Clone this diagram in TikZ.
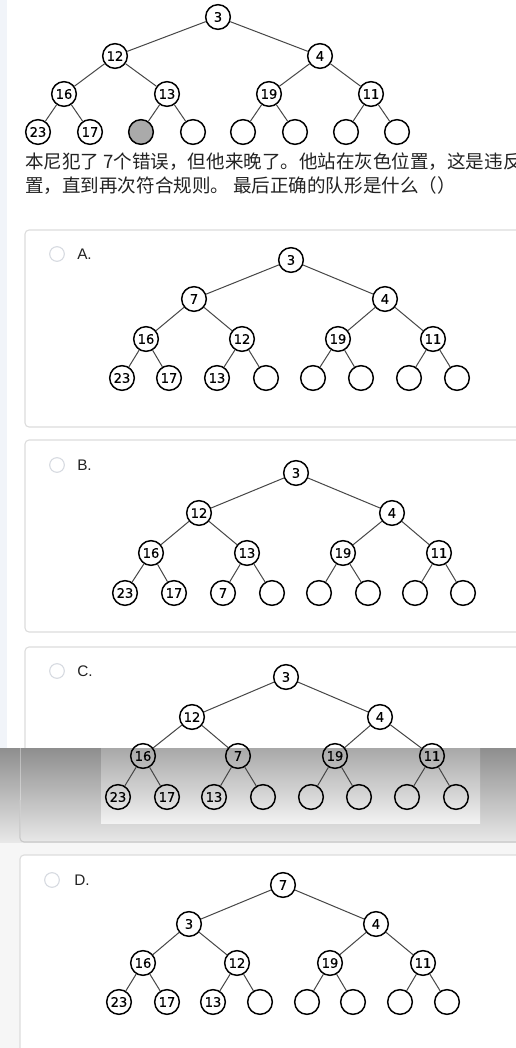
\documentclass[tikz,border=0pt]{standalone}
\usepackage{fontspec}
\setmainfont{Liberation Sans}
\newfontfamily\cjkfont{Noto Sans CJK SC}
\newfontfamily\numfont[FakeBold=0.4]{DejaVu Sans}
\definecolor{cardline}{RGB}{220,220,220}
\definecolor{radioline}{RGB}{214,218,224}
\definecolor{txtdark}{RGB}{34,34,34}
\definecolor{edgegray}{RGB}{70,70,70}
\definecolor{sidestrip}{RGB}{241,244,249}
\definecolor{pagegray}{RGB}{246,246,246}
\tikzset{
  vtx/.style={circle,draw=black,line width=1.1pt,minimum size=18.5pt,inner sep=0pt,font=\numfont\fontsize{9.8}{10}\selectfont},
  grayvtx/.style={vtx,fill={rgb,255:red,170;green,170;blue,170}},
  edge/.style={draw=edgegray,line width=0.75pt},
  card/.style={draw=cardline,line width=0.8pt,rounded corners=3pt,fill=white},
  radio/.style={circle,draw=radioline,line width=0.8pt,minimum size=11pt,inner sep=0pt},
  optlabel/.style={anchor=west,inner sep=0pt,text=txtdark,font=\fontsize{11.5}{12}\selectfont},
  cjktext/.style={anchor=west,inner sep=0pt,text=txtdark,font=\cjkfont\fontsize{13.9}{14}\selectfont}
}
\begin{document}
\begin{tikzpicture}[x=0.75pt,y=0.75pt,yscale=-1,xscale=1]
\useasboundingbox (0,0) rectangle (516,1048);
\clip (0,0) rectangle (516,1048);

%Page background
\fill [white] (0,0) rectangle (516,1048);
\fill [sidestrip] (0,0) rectangle (7,748);
\fill [pagegray] (0,842) rectangle (516,1048);

%Cards
\draw [card] (25,230) rectangle (540,427);
\draw [card] (25,440) rectangle (540,632);
\draw [card] (25,647) rectangle (540,842);
\draw [card] (20,855) rectangle (540,1070);

%Shaded band over card C
\shade [top color={rgb,255:red,142;green,142;blue,142}, bottom color={rgb,255:red,232;green,232;blue,232}] (0,748) rectangle (516,842);
\draw [draw=white, draw opacity=0.35, line width=0.6pt] (20,748) -- (20,838);
\draw [draw={rgb,255:red,200;green,200;blue,200}, line width=0.8pt, rounded corners=3pt] (20,800) -- (20,842) -- (540,842);
\shade [top color={rgb,255:red,168;green,168;blue,168}, bottom color={rgb,255:red,242;green,242;blue,242}] (101,748) rectangle (480,823);

% Radio buttons and option labels
\node [radio] (radA) at (57,254) {};
\node [optlabel] (labA) at (77,254) {A.};
\node [radio] (radB) at (57,465) {};
\node [optlabel] (labB) at (77,465) {B.};
\node [radio] (radC) at (57,671) {};
\node [optlabel] (labC) at (77,671) {C.};
\node [radio] (radD) at (52,880) {};
\node [optlabel] (labD) at (74,880) {D.};

%Question tree
\node [vtx] (q1) at (218,17) {3};
\node [vtx] (q2) at (115,56) {12};
\node [vtx] (q3) at (320,56) {4};
\node [vtx] (q4) at (64,94) {16};
\node [vtx] (q5) at (167,94) {13};
\node [vtx] (q6) at (269,94) {19};
\node [vtx] (q7) at (371,94) {11};
\node [vtx] (q8) at (38,132) {23};
\node [vtx] (q9) at (90,132) {17};
\node [grayvtx] (q10) at (141,132) {};
\node [vtx] (q11) at (193,132) {};
\node [vtx] (q12) at (243,132) {};
\node [vtx] (q13) at (295,132) {};
\node [vtx] (q14) at (346,132) {};
\node [vtx] (q15) at (397,132) {};
\draw [edge] (q1) -- (q2) (q1) -- (q3) (q2) -- (q4) (q2) -- (q5) (q3) -- (q6) (q3) -- (q7)
  (q4) -- (q8) (q4) -- (q9) (q5) -- (q10) (q5) -- (q11) (q6) -- (q12) (q6) -- (q13) (q7) -- (q14) (q7) -- (q15);

% Text Node
\node [cjktext] (line1) at (25,162) {本尼犯了 7个错误，但他来晚了。他站在灰色位置，这是违反};
% Text Node
\node [cjktext] (line2) at (25,186) {置，直到再次符合规则。 最后正确的队形是什么（）};

%Tree A
\node [vtx] (a1) at (291,260) {3};
\node [vtx] (a2) at (194,299) {7};
\node [vtx] (a3) at (385,299) {4};
\node [vtx] (a4) at (146,339) {16};
\node [vtx] (a5) at (242,339) {12};
\node [vtx] (a6) at (338,339) {19};
\node [vtx] (a7) at (433,339) {11};
\node [vtx] (a8) at (122,378) {23};
\node [vtx] (a9) at (169,378) {17};
\node [vtx] (a10) at (217,378) {13};
\node [vtx] (a11) at (266,378) {};
\node [vtx] (a12) at (313,378) {};
\node [vtx] (a13) at (361,378) {};
\node [vtx] (a14) at (409,378) {};
\node [vtx] (a15) at (457,378) {};
\draw [edge] (a1) -- (a2) (a1) -- (a3) (a2) -- (a4) (a2) -- (a5) (a3) -- (a6) (a3) -- (a7)
  (a4) -- (a8) (a4) -- (a9) (a5) -- (a10) (a5) -- (a11) (a6) -- (a12) (a6) -- (a13) (a7) -- (a14) (a7) -- (a15);

%Tree B
\node [vtx] (b1) at (296,473) {3};
\node [vtx] (b2) at (199,513) {12};
\node [vtx] (b3) at (392,513) {4};
\node [vtx] (b4) at (151,553) {16};
\node [vtx] (b5) at (247,553) {13};
\node [vtx] (b6) at (343,553) {19};
\node [vtx] (b7) at (439,553) {11};
\node [vtx] (b8) at (125,593) {23};
\node [vtx] (b9) at (174,593) {17};
\node [vtx] (b10) at (223,593) {7};
\node [vtx] (b11) at (272,593) {};
\node [vtx] (b12) at (319,593) {};
\node [vtx] (b13) at (368,593) {};
\node [vtx] (b14) at (415,593) {};
\node [vtx] (b15) at (463,593) {};
\draw [edge] (b1) -- (b2) (b1) -- (b3) (b2) -- (b4) (b2) -- (b5) (b3) -- (b6) (b3) -- (b7)
  (b4) -- (b8) (b4) -- (b9) (b5) -- (b10) (b5) -- (b11) (b6) -- (b12) (b6) -- (b13) (b7) -- (b14) (b7) -- (b15);

%Tree C
\node [vtx] (c1) at (286,677) {3};
\node [vtx] (c2) at (192,717) {12};
\node [vtx] (c3) at (380,717) {4};
\node [vtx] (c4) at (143,756) {16};
\node [vtx] (c5) at (238,756) {7};
\node [vtx] (c6) at (335,756) {19};
\node [vtx] (c7) at (432,756) {11};
\node [vtx] (c8) at (118,797) {23};
\node [vtx] (c9) at (167,797) {17};
\node [vtx] (c10) at (214,797) {13};
\node [vtx] (c11) at (263,797) {};
\node [vtx] (c12) at (311,797) {};
\node [vtx] (c13) at (359,797) {};
\node [vtx] (c14) at (407,797) {};
\node [vtx] (c15) at (456,797) {};
\draw [edge] (c1) -- (c2) (c1) -- (c3) (c2) -- (c4) (c2) -- (c5) (c3) -- (c6) (c3) -- (c7)
  (c4) -- (c8) (c4) -- (c9) (c5) -- (c10) (c5) -- (c11) (c6) -- (c12) (c6) -- (c13) (c7) -- (c14) (c7) -- (c15);

%Tree D
\node [vtx] (d1) at (283,885) {7};
\node [vtx] (d2) at (189,924) {3};
\node [vtx] (d3) at (376,924) {4};
\node [vtx] (d4) at (143,963) {16};
\node [vtx] (d5) at (237,963) {12};
\node [vtx] (d6) at (330,963) {19};
\node [vtx] (d7) at (423,963) {11};
\node [vtx] (d8) at (119,1002) {23};
\node [vtx] (d9) at (167,1002) {17};
\node [vtx] (d10) at (213,1002) {13};
\node [vtx] (d11) at (260,1002) {};
\node [vtx] (d12) at (307,1002) {};
\node [vtx] (d13) at (353,1002) {};
\node [vtx] (d14) at (400,1002) {};
\node [vtx] (d15) at (447,1002) {};
\draw [edge] (d1) -- (d2) (d1) -- (d3) (d2) -- (d4) (d2) -- (d5) (d3) -- (d6) (d3) -- (d7)
  (d4) -- (d8) (d4) -- (d9) (d5) -- (d10) (d5) -- (d11) (d6) -- (d12) (d6) -- (d13) (d7) -- (d14) (d7) -- (d15);

\end{tikzpicture}
\end{document}
